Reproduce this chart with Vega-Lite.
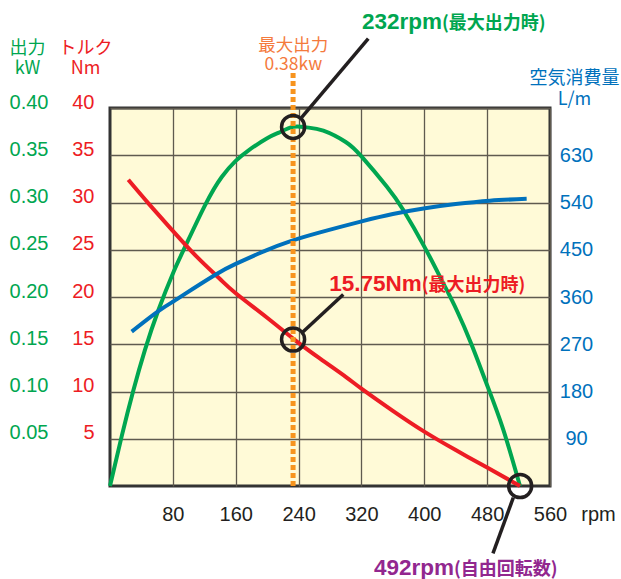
{
  "$schema": "https://vega.github.io/schema/vega-lite/v6.json",
  "width": 440,
  "height": 378,
  "autosize": {"type": "none"},
  "padding": {"left": 110, "top": 108, "right": 71, "bottom": 93},
  "background": "white",
  "config": {
    "view": {"fill": "#FFFAD7", "stroke": "#333333", "strokeWidth": 3},
    "axis": {"labelFont": "Liberation Sans", "titleFont": "Noto Sans CJK JP", "labelFlush": false, "labelOverlap": false}
  },
  "encoding": {
    "x": {
      "field": "rpm", "type": "quantitative",
      "scale": {"domain": [0, 560], "nice": false, "zero": true},
      "axis": {
        "values": [80, 160, 240, 320, 400, 480, 560],
        "grid": true, "gridColor": "#5f5a4f", "gridWidth": 1.3,
        "domain": false, "ticks": false, "tickSize": 0,
        "labelPadding": 18, "labelFontSize": 20, "labelColor": "#231F20",
        "title": "rpm", "titleX": 488, "titleY": 18, "titleAlign": "center", "titleBaseline": "top",
        "titleFont": "Liberation Sans", "titleFontSize": 20, "titleFontWeight": "normal", "titleColor": "#231F20"
      }
    }
  },
  "layer": [
    {
      "data": {"values": [
        {"rpm": 0, "kw": 0}, {"rpm": 15, "kw": 0.053}, {"rpm": 29.7, "kw": 0.101}, {"rpm": 44.5, "kw": 0.144},
        {"rpm": 61.5, "kw": 0.186}, {"rpm": 80.6, "kw": 0.226}, {"rpm": 95.5, "kw": 0.253}, {"rpm": 120.9, "kw": 0.297},
        {"rpm": 142.2, "kw": 0.327}, {"rpm": 160, "kw": 0.344}, {"rpm": 176, "kw": 0.355}, {"rpm": 200, "kw": 0.368},
        {"rpm": 215, "kw": 0.374}, {"rpm": 233, "kw": 0.380}, {"rpm": 250, "kw": 0.3795}, {"rpm": 271.5, "kw": 0.376},
        {"rpm": 300, "kw": 0.364}, {"rpm": 320.3, "kw": 0.3485}, {"rpm": 352.2, "kw": 0.317}, {"rpm": 373.3, "kw": 0.292},
        {"rpm": 400.9, "kw": 0.252}, {"rpm": 424.2, "kw": 0.2145}, {"rpm": 441.3, "kw": 0.186}, {"rpm": 460, "kw": 0.150},
        {"rpm": 479.4, "kw": 0.108}, {"rpm": 500, "kw": 0.061}, {"rpm": 521.8, "kw": 0}
      ]},
      "mark": {"type": "line", "color": "#00A650", "strokeWidth": 4, "interpolate": "natural"},
      "encoding": {
        "y": {
          "field": "kw", "type": "quantitative",
          "scale": {"domain": [0, 0.4], "nice": false},
          "axis": {
            "orient": "left", "values": [0.05, 0.1, 0.15, 0.2, 0.25, 0.3, 0.35, 0.4], "format": ".2f",
            "grid": false, "domain": false, "ticks": false, "tickSize": 0,
            "labelPadding": 62, "labelOffset": -6, "labelFontSize": 20, "labelColor": "#00A650",
            "title": ["出力", "kW"], "titleAngle": 0, "titleX": -83, "titleY": -68.7,
            "titleAlign": "center", "titleBaseline": "top", "titleFontSize": 18, "titleFontWeight": "normal",
            "titleLineHeight": 20.5, "titleColor": "#00A650"
          }
        }
      }
    },
    {
      "data": {"values": [
        {"rpm": 23.3, "nm": 32.4}, {"rpm": 50, "nm": 29.8}, {"rpm": 80, "nm": 27.0}, {"rpm": 110, "nm": 24.3},
        {"rpm": 140, "nm": 21.9}, {"rpm": 160, "nm": 20.4}, {"rpm": 200, "nm": 17.8}, {"rpm": 233, "nm": 15.6},
        {"rpm": 267, "nm": 13.5}, {"rpm": 300, "nm": 11.55}, {"rpm": 320, "nm": 10.3}, {"rpm": 360, "nm": 7.95},
        {"rpm": 400, "nm": 5.75}, {"rpm": 440, "nm": 3.8}, {"rpm": 480, "nm": 1.95}, {"rpm": 521.8, "nm": 0}
      ]},
      "mark": {"type": "line", "color": "#ED1C24", "strokeWidth": 4, "interpolate": "natural"},
      "encoding": {
        "y": {
          "field": "nm", "type": "quantitative",
          "scale": {"domain": [0, 40], "nice": false},
          "axis": {
            "orient": "left", "values": [5, 10, 15, 20, 25, 30, 35, 40],
            "grid": true, "gridColor": "#5f5a4f", "gridWidth": 1.3,
            "domain": false, "ticks": false, "tickSize": 0,
            "labelPadding": 16, "labelOffset": -6, "labelFontSize": 20, "labelColor": "#ED1C24",
            "title": ["トルク", "Nm"], "titleAngle": 0, "titleX": -25, "titleY": -68.7,
            "titleAlign": "center", "titleBaseline": "top", "titleFontSize": 18, "titleFontWeight": "normal",
            "titleLineHeight": 20.5, "titleColor": "#ED1C24"
          }
        }
      }
    },
    {
      "data": {"values": [
        {"rpm": 27.6, "lpm": 294}, {"rpm": 61.5, "lpm": 333}, {"rpm": 80.6, "lpm": 351.5}, {"rpm": 95.5, "lpm": 366},
        {"rpm": 133.6, "lpm": 402}, {"rpm": 160, "lpm": 423}, {"rpm": 197.3, "lpm": 448}, {"rpm": 229.1, "lpm": 466},
        {"rpm": 267.3, "lpm": 483}, {"rpm": 320.3, "lpm": 504}, {"rpm": 360, "lpm": 518}, {"rpm": 400.9, "lpm": 529},
        {"rpm": 440, "lpm": 537}, {"rpm": 483.6, "lpm": 543.5}, {"rpm": 530.3, "lpm": 547}
      ]},
      "mark": {"type": "line", "color": "#0071BC", "strokeWidth": 4, "interpolate": "natural"},
      "encoding": {
        "y": {
          "field": "lpm", "type": "quantitative",
          "scale": {"domain": [0, 720], "nice": false},
          "axis": {
            "orient": "right", "values": [90, 180, 270, 360, 450, 540, 630],
            "grid": false, "domain": false, "ticks": false, "tickSize": 0,
            "labelPadding": 26, "labelAlign": "center", "labelFontSize": 20, "labelColor": "#0071BC",
            "title": ["空気消費量", "L/m"], "titleAngle": 0, "titleX": 24, "titleY": -38.4,
            "titleAlign": "center", "titleBaseline": "top", "titleFontSize": 18, "titleFontWeight": "normal",
            "titleLineHeight": 20.5, "titleColor": "#0071BC"
          }
        }
      }
    },
    {
      "encoding": {
        "y": {"field": "kw", "type": "quantitative", "scale": {"domain": [0, 0.4], "nice": false}, "axis": null}
      },
      "layer": [
        {
          "data": {"values": [{"rpm": 233, "kw": 0, "kw2": 0.437}]},
          "mark": {"type": "rule", "color": "#F7941E", "strokeWidth": 5, "strokeDash": [5, 3]},
          "encoding": {"y2": {"field": "kw2"}}
        },
        {
          "data": {"values": [
            {"seg": "a", "o": 1, "rpm": 244, "kw": 0.390}, {"seg": "a", "o": 2, "rpm": 328.7, "kw": 0.4735},
            {"seg": "b", "o": 1, "rpm": 245.4, "kw": 0.163}, {"seg": "b", "o": 2, "rpm": 296.9, "kw": 0.2026},
            {"seg": "c", "o": 1, "rpm": 513.3, "kw": -0.0123}, {"seg": "c", "o": 2, "rpm": 487.4, "kw": -0.0713}
          ]},
          "mark": {"type": "line", "color": "#231F20", "strokeWidth": 3.5},
          "encoding": {"detail": {"field": "seg"}, "order": {"field": "o"}}
        },
        {
          "data": {"values": [{"rpm": 233, "kw": 0.380}, {"rpm": 233, "kw": 0.155}, {"rpm": 522, "kw": 0}]},
          "mark": {"type": "point", "shape": "circle", "filled": false, "stroke": "#231F20", "strokeWidth": 3.5, "size": 530, "opacity": 1}
        },
        {
          "data": {"values": [{"rpm": 233.3, "kw": 0.475, "label": "最大出力\n0.38kw"}]},
          "mark": {"type": "text", "align": "center", "baseline": "top", "font": "Noto Sans CJK JP", "fontSize": 17.5, "color": "#F47A3C", "lineBreak": "\n", "lineHeight": 18.5},
          "encoding": {"text": {"field": "label"}}
        },
        {
          "data": {"values": [
            {"rpm": 422.5, "kw": 0.4836, "big": "232rpm", "small": "(最大出力時)", "c": "power"},
            {"rpm": 396.7, "kw": 0.2067, "big": "15.75Nm", "small": "(最大出力時)", "c": "torque"},
            {"rpm": 437.8, "kw": -0.0937, "big": "492rpm", "small": "(自由回転数)", "c": "free"}
          ]},
          "layer": [
            {
              "mark": {"type": "text", "align": "right", "baseline": "alphabetic", "font": "Liberation Sans", "fontWeight": "bold", "fontSize": 22.5},
              "encoding": {
                "text": {"field": "big"},
                "color": {"field": "c", "type": "nominal", "scale": {"domain": ["power", "torque", "free"], "range": ["#00A650", "#ED1C24", "#92278F"]}, "legend": null}
              }
            },
            {
              "mark": {"type": "text", "align": "left", "baseline": "alphabetic", "font": "Noto Sans CJK JP", "fontWeight": "bold", "fontSize": 18},
              "encoding": {
                "text": {"field": "small"},
                "color": {"field": "c", "type": "nominal", "scale": {"domain": ["power", "torque", "free"], "range": ["#00A650", "#ED1C24", "#92278F"]}, "legend": null}
              }
            }
          ]
        }
      ]
    }
  ],
  "resolve": {"scale": {"y": "independent"}, "axis": {"y": "independent"}}
}
